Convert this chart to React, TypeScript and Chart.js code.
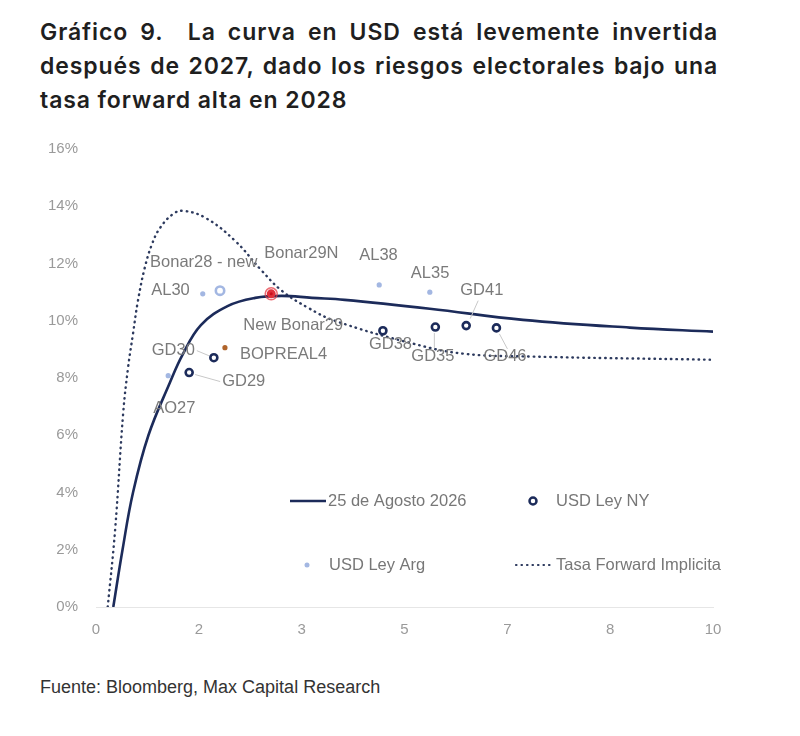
import { useEffect, useRef } from 'react'
import { Chart, registerables } from 'chart.js'
import type { ChartConfiguration, Plugin } from 'chart.js'

Chart.register(...registerables)

// eje x: 0 a 10 años, etiquetas redondeadas como en el original
const xTickLabels = ['0', '2', '3', '5', '7', '8', '10']

// curva ajustada al 25 de agosto 2026
const curveX = [0.28, 0.43, 0.6, 0.85, 1.2, 1.4, 1.7, 2.14, 2.58, 3.01, 3.5, 4.03, 5.41, 6.92, 8.65, 10]
const curveY = [0, 2.0, 4.0, 6.0, 7.85, 8.8, 9.85, 10.52, 10.8, 10.87, 10.8, 10.73, 10.42, 10.03, 9.76, 9.62]

// tasa forward implícita
const forwardX = [0.19, 0.31, 0.44, 0.52, 0.6, 0.68, 0.79, 0.91, 1.04, 1.25, 1.41, 1.77, 2.25, 2.69, 3.01, 3.44, 3.87, 5.14, 5.95, 7.03, 9.95]
const forwardY = [0, 2.7, 6.76, 8.37, 9.55, 10.7, 11.85, 12.69, 13.25, 13.73, 13.84, 13.6, 12.8, 11.74, 11.05, 10.45, 10.0, 9.2, 8.85, 8.75, 8.64]

// bonos ley NY
const nyNames = ['GD29', 'GD30', 'GD38', 'GD35', 'GD41', 'GD46']
const nyX = [1.51, 1.91, 4.65, 5.5, 6.0, 6.49]
const nyY = [8.19, 8.71, 9.65, 9.78, 9.83, 9.75]

// bonos ley Argentina
const argNames = ['AO27', 'AL30', 'AL38', 'AL35']
const argX = [1.17, 1.73, 4.59, 5.41]
const argY = [8.08, 10.94, 11.25, 11.0]

// emisiones nuevas
const newArgNames = ['Bonar28 - new']
const newArgX = [2.01]
const newArgY = [11.05]

const bonar29Names = ['Bonar29N', 'New Bonar29']
const bonar29X = [2.84, 2.84]
const bonar29Y = [10.94, 10.94]

const bopNames = ['BOPREAL4']
const bopX = [2.09]
const bopY = [9.06]

const titleLines = [
  'Gráfico 9.\u00a0 La curva en USD está levemente invertida',
  'después de 2027, dado los riesgos electorales bajo una',
  'tasa forward alta en 2028',
]

const NAVY = '#1c2b5a'
const LIGHT = '#a3b7e2'
const RED = '#e0313b'
const BROWN = '#b0642a'
const FONT = '"Liberation Sans", Arial, sans-serif'

const toPoints = (xs: number[], ys: number[]) => xs.map((x, i) => ({ x, y: ys[i] }))

// posición de cada etiqueta respecto a su punto (px)
type LabelStyle = { dx: number; dy: number; align?: CanvasTextAlign; leader?: number[] }
const labelStyle: Record<string, LabelStyle> = {
  GD29: { dx: 33, dy: 9, leader: [6, 2, 31, 9] },
  GD30: { dx: -19, dy: -7, align: 'right', leader: [-17, -7, -5, -2] },
  GD38: { dx: -14, dy: 14 },
  GD35: { dx: -24, dy: 29, leader: [-1, 6, -1, 21] },
  GD41: { dx: -6, dy: -35, leader: [12, -25, 4, -7] },
  GD46: { dx: -13, dy: 29, leader: [3, 6, 11, 21] },
  AO27: { dx: -15, dy: 33 },
  AL30: { dx: -13, dy: -3, align: 'right' },
  AL38: { dx: -20, dy: -30 },
  AL35: { dx: -19, dy: -19 },
  'Bonar28 - new': { dx: -70, dy: -28 },
  Bonar29N: { dx: -7, dy: -40 },
  'New Bonar29': { dx: -28, dy: 32 },
  BOPREAL4: { dx: 15, dy: 7 },
}

const pointLabels: [string[], number[], number[]][] = [
  [nyNames, nyX, nyY],
  [argNames, argX, argY],
  [newArgNames, newArgX, newArgY],
  [bonar29Names, bonar29X, bonar29Y],
  [bopNames, bopX, bopY],
]

const labelsPlugin: Plugin = {
  id: 'pointLabels',
  afterDatasetsDraw(chart) {
    const { ctx } = chart
    const sx = chart.scales.x
    const sy = chart.scales.y
    ctx.save()
    ctx.font = `16.5px ${FONT}`
    ctx.textBaseline = 'middle'
    pointLabels.forEach(([names, xs, ys]) => {
      names.forEach((name, i) => {
        const st = labelStyle[name]
        if (!st) return
        const px = sx.getPixelForValue(xs[i])
        const py = sy.getPixelForValue(ys[i])
        if (st.leader) {
          const [x1, y1, x2, y2] = st.leader
          ctx.strokeStyle = '#c8c8c8'
          ctx.lineWidth = 1
          ctx.beginPath()
          ctx.moveTo(px + x1, py + y1)
          ctx.lineTo(px + x2, py + y2)
          ctx.stroke()
        }
        ctx.fillStyle = '#7a7a7a'
        ctx.textAlign = st.align || 'left'
        ctx.fillText(name, px + st.dx, py + st.dy)
      })
    })
    ctx.restore()
  },
}

// leyenda dentro del área del gráfico
const legendPlugin: Plugin = {
  id: 'gridLegend',
  afterDraw(chart) {
    const { ctx } = chart
    const top = chart.chartArea.top
    const r1 = top + 352
    const r2 = top + 416
    ctx.save()
    ctx.font = `16.5px ${FONT}`
    ctx.textBaseline = 'middle'
    ctx.textAlign = 'left'
    ctx.fillStyle = '#777'

    ctx.strokeStyle = NAVY
    ctx.lineWidth = 2.5
    ctx.beginPath()
    ctx.moveTo(290, r1)
    ctx.lineTo(326, r1)
    ctx.stroke()
    ctx.fillText('25 de Agosto 2026', 328, r1)

    ctx.beginPath()
    ctx.arc(533, r1, 3.5, 0, Math.PI * 2)
    ctx.fillStyle = '#fff'
    ctx.fill()
    ctx.stroke()
    ctx.fillStyle = '#777'
    ctx.fillText('USD Ley NY', 556, r1)

    ctx.beginPath()
    ctx.arc(307, r2, 2.5, 0, Math.PI * 2)
    ctx.fillStyle = LIGHT
    ctx.fill()
    ctx.fillStyle = '#777'
    ctx.fillText('USD Ley Arg', 329, r2)

    ctx.strokeStyle = '#2d3a5e'
    ctx.lineWidth = 2.2
    ctx.lineCap = 'round'
    ctx.setLineDash([0.5, 5])
    ctx.beginPath()
    ctx.moveTo(516, r2)
    ctx.lineTo(551, r2)
    ctx.stroke()
    ctx.setLineDash([])
    ctx.fillText('Tasa Forward Implicita', 556, r2)
    ctx.restore()
  },
}

function YieldCurveChart() {
  const canvasRef = useRef<HTMLCanvasElement>(null)
  const chartRef = useRef<Chart | null>(null)

  useEffect(() => {
    if (!canvasRef.current) return
    const ctx = canvasRef.current.getContext('2d')
    if (!ctx) return

    chartRef.current?.destroy()

    const config: ChartConfiguration = {
      type: 'scatter',
      data: {
        datasets: [
          {
            label: 'Bonar29N',
            data: toPoints(bonar29X.slice(0, 1), bonar29Y.slice(0, 1)),
            pointRadius: 3,
            pointBackgroundColor: '#c8101c',
            pointBorderColor: RED,
            pointBorderWidth: 3,
          },
          {
            label: 'New Bonar29',
            data: toPoints(bonar29X.slice(1), bonar29Y.slice(1)),
            pointRadius: 6,
            pointBackgroundColor: 'rgba(0,0,0,0)',
            pointBorderColor: 'rgba(230,60,70,0.75)',
            pointBorderWidth: 1.5,
          },
          {
            label: 'USD Ley NY',
            data: toPoints(nyX, nyY),
            pointRadius: 3.5,
            pointBackgroundColor: '#fff',
            pointBorderColor: NAVY,
            pointBorderWidth: 2.6,
          },
          {
            label: 'USD Ley Arg',
            data: toPoints(argX, argY),
            pointRadius: 2.6,
            pointBackgroundColor: LIGHT,
            pointBorderWidth: 0,
          },
          {
            label: 'Bonar28 - new',
            data: toPoints(newArgX, newArgY),
            pointRadius: 4.2,
            pointBackgroundColor: '#fff',
            pointBorderColor: LIGHT,
            pointBorderWidth: 2.6,
          },
          {
            label: 'BOPREAL4',
            data: toPoints(bopX, bopY),
            pointRadius: 2.6,
            pointBackgroundColor: BROWN,
            pointBorderWidth: 0,
          },
          {
            label: '25 de Agosto 2026',
            data: toPoints(curveX, curveY),
            showLine: true,
            borderColor: NAVY,
            borderWidth: 2.6,
            pointRadius: 0,
            tension: 0.4,
          },
          {
            label: 'Tasa Forward Implicita',
            data: toPoints(forwardX, forwardY),
            showLine: true,
            borderColor: '#2d3a5e',
            borderWidth: 2.4,
            borderDash: [0.5, 5],
            borderCapStyle: 'round',
            pointRadius: 0,
            tension: 0.4,
          },
        ],
      },
      options: {
        animation: false,
        responsive: true,
        maintainAspectRatio: false,
        layout: { padding: { left: 36, right: 47, top: 11, bottom: 13 } },
        plugins: {
          legend: { display: false },
          tooltip: { enabled: false },
        },
        scales: {
          x: {
            type: 'linear',
            min: 0,
            max: 10,
            afterBuildTicks: (axis) => {
              axis.ticks = xTickLabels.map((_, i) => ({ value: (i * 10) / (xTickLabels.length - 1) }))
            },
            afterFit: (axis) => {
              axis.height = 40
            },
            ticks: {
              callback: (_v, i) => xTickLabels[i],
              color: '#9a9a9a',
              font: { family: FONT, size: 15 },
              padding: 14,
              autoSkip: false,
              maxRotation: 0,
            },
            grid: { display: false, drawTicks: false },
            border: { display: true, color: '#e6e6e6', width: 1 },
          },
          y: {
            min: 0,
            max: 16,
            afterFit: (axis) => {
              axis.width = 60
            },
            ticks: {
              stepSize: 2,
              callback: (v) => `${v}%`,
              color: '#9a9a9a',
              font: { family: FONT, size: 15 },
              padding: 18,
            },
            grid: { display: false, drawTicks: false },
            border: { display: false },
          },
        },
      },
      plugins: [labelsPlugin, legendPlugin],
    }

    chartRef.current = new Chart(ctx, config)

    return () => {
      chartRef.current?.destroy()
      chartRef.current = null
    }
  }, [])

  return <canvas ref={canvasRef} />
}

export default function App() {
  return (
    <div style={{ position: 'absolute', left: 0, top: 0, width: 800, height: 736, background: '#fff', fontFamily: FONT }}>
      <div
        style={{
          position: 'absolute',
          left: 40,
          top: 15,
          width: 678,
          fontFamily: 'Inter, "Liberation Sans", Arial, sans-serif',
          fontWeight: 600,
          fontSize: 23,
          letterSpacing: '0.9px',
          lineHeight: '34px',
          color: '#1f1f1f',
        }}
      >
        {titleLines.map((line, i) => {
          const just = i < titleLines.length - 1 ? 'justify' : 'left'
          return (
            <div key={i} style={{ whiteSpace: 'nowrap', textAlign: just, textAlignLast: just }}>
              {line}
            </div>
          )
        })}
      </div>
      <div style={{ position: 'absolute', left: 0, top: 122, width: 760, height: 538 }}>
        <YieldCurveChart />
      </div>
      <div style={{ position: 'absolute', left: 40, top: 677, fontSize: 18, color: '#333', whiteSpace: 'nowrap' }}>
        Fuente: Bloomberg, Max Capital Research
      </div>
    </div>
  )
}
